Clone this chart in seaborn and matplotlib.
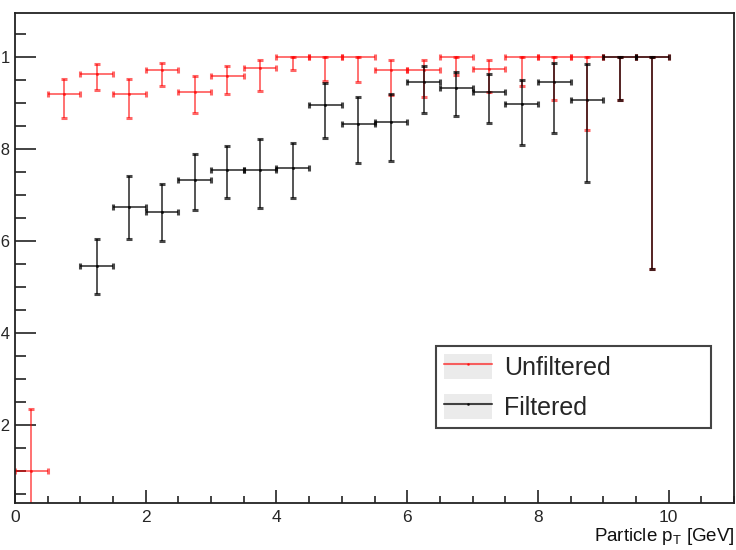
import numpy as np
import pandas as pd
import matplotlib
matplotlib.use("Agg")
import matplotlib.pyplot as plt
import seaborn as sns
from matplotlib.lines import Line2D
from matplotlib.patches import Patch
from matplotlib.ticker import MultipleLocator, FixedLocator, FuncFormatter

# bins de 0.5 GeV
PT_CENTERS = [0.25, 0.75, 1.25, 1.75, 2.25, 2.75, 3.25, 3.75, 4.25, 4.75,
              5.25, 5.75, 6.25, 6.75, 7.25, 7.75, 8.25, 8.75, 9.25, 9.75]
PT_HALF_WIDTH = 0.25

UNFILT_EFF = [0.100, 0.919, 0.964, 0.919, 0.971, 0.925, 0.958, 0.977, 1.000, 1.000,
              1.000, 0.971, 0.971, 1.000, 0.974, 1.000, 1.000, 1.000, 1.000, 1.000]
UNFILT_LOW = [0.000, 0.868, 0.929, 0.868, 0.938, 0.878, 0.920, 0.926, 0.971, 0.949,
              0.946, 0.917, 0.913, 0.962, 0.924, 0.938, 0.906, 0.841, 0.906, 0.540]
UNFILT_HIGH = [0.235, 0.952, 0.984, 0.952, 0.988, 0.958, 0.981, 0.994, 1.000, 1.000,
               1.000, 0.994, 0.994, 1.000, 0.994, 1.000, 1.000, 1.000, 1.000, 1.000]

FILT_EFF = [np.nan, np.nan, 0.545, 0.674, 0.663, 0.733, 0.755, 0.754, 0.759, 0.896,
            0.854, 0.859, 0.946, 0.932, 0.924, 0.899, 0.946, 0.907, 1.000, 1.000]
FILT_LOW = [np.nan, np.nan, 0.484, 0.604, 0.601, 0.668, 0.694, 0.672, 0.694, 0.823,
            0.770, 0.775, 0.879, 0.871, 0.857, 0.809, 0.835, 0.728, 0.906, 0.540]
FILT_HIGH = [np.nan, np.nan, 0.605, 0.741, 0.723, 0.790, 0.806, 0.822, 0.814, 0.943,
             0.914, 0.919, 0.980, 0.967, 0.964, 0.951, 0.987, 0.984, 1.000, 1.000]

SERIES = ["Unfiltered", "Filtered"]
Y_TICKS = [0.2, 0.4, 0.6, 0.8, 1.0]

RED = (1.0, 0.0, 0.0, 0.6)
BLACK = (0.0, 0.0, 0.0, 0.72)

sns.set_theme(style="white")
plt.rcParams["font.family"] = ["Liberation Sans", "DejaVu Sans"]
plt.rcParams["mathtext.default"] = "regular"


def montar_df(eff, low, high, nome):
    df = pd.DataFrame({"pt": PT_CENTERS, "eff": eff, "low": low, "high": high})
    df["serie"] = nome
    return df.dropna()


df_all = pd.concat([
    montar_df(UNFILT_EFF, UNFILT_LOW, UNFILT_HIGH, SERIES[0]),
    montar_df(FILT_EFF, FILT_LOW, FILT_HIGH, SERIES[1]),
])

fig = plt.figure(figsize=(7.36, 5.5), dpi=100)
ax = fig.add_axes([15 / 736, 47 / 550, 719 / 736, 490 / 550])

for nome, cor in zip(SERIES, [RED, BLACK]):
    d = df_all[df_all["serie"] == nome]
    ax.errorbar(
        d["pt"], d["eff"], xerr=PT_HALF_WIDTH,
        yerr=[d["eff"] - d["low"], d["high"] - d["eff"]],
        fmt="none", ecolor=cor, elinewidth=1.3, capsize=2, capthick=2.2,
    )
    sns.scatterplot(data=d, x="pt", y="eff", color=cor[:3], alpha=cor[3],
                    s=5, linewidth=0, ax=ax, legend=False)

ax.set_xlim(0, 11)
ax.set_ylim(0.030, 1.096)
ax.set_xlabel("")
ax.set_ylabel("")

ax.xaxis.set_major_locator(MultipleLocator(2))
ax.xaxis.set_minor_locator(MultipleLocator(0.5))
ax.yaxis.set_major_locator(FixedLocator(Y_TICKS))
ax.yaxis.set_minor_locator(MultipleLocator(0.05))
ax.yaxis.set_major_formatter(FuncFormatter(lambda v, p: "1" if abs(v - 1) < 1e-9 else f"{v:.1f}"))

ax.tick_params(axis="y", which="major", direction="in", length=15, width=1.2,
               color="#222222", labelsize=12, pad=3.5, left=True)
ax.tick_params(axis="y", which="minor", direction="in", length=8, width=1.2,
               color="#222222", left=True)
ax.tick_params(axis="x", which="major", direction="in", length=9.5, width=1.2,
               color="#222222", labelsize=12.5, pad=5, bottom=True)
ax.tick_params(axis="x", which="minor", direction="in", length=5, width=1.2,
               color="#222222", bottom=True)

for lado in ["left", "bottom", "right", "top"]:
    ax.spines[lado].set_color("#222222")
    ax.spines[lado].set_linewidth(1.3)

fig.text(735 / 736, 9 / 550, "Particle p$_T$ [GeV]", ha="right", va="baseline",
         fontsize=13.5, color="#111111")

handles = [
    (Patch(facecolor="#ebebeb", edgecolor="none"),
     Line2D([], [], color=RED, lw=1.5, marker=".", ms=2)),
    (Patch(facecolor="#ebebeb", edgecolor="none"),
     Line2D([], [], color=BLACK, lw=1.5, marker=".", ms=2)),
]
leg = ax.legend(
    handles, SERIES, loc="lower left",
    bbox_to_anchor=(421 / 719, 75 / 490, 275 / 719, 93 / 490), mode="expand",
    fontsize=18, handlelength=1.9, handleheight=1.2, handletextpad=0.5,
    borderpad=0.32, labelspacing=0.56, borderaxespad=0,
    fancybox=False, frameon=True, framealpha=1, edgecolor="#444444",
)
leg.get_frame().set_linewidth(1.5)

fig.savefig("out.png", dpi=100)
